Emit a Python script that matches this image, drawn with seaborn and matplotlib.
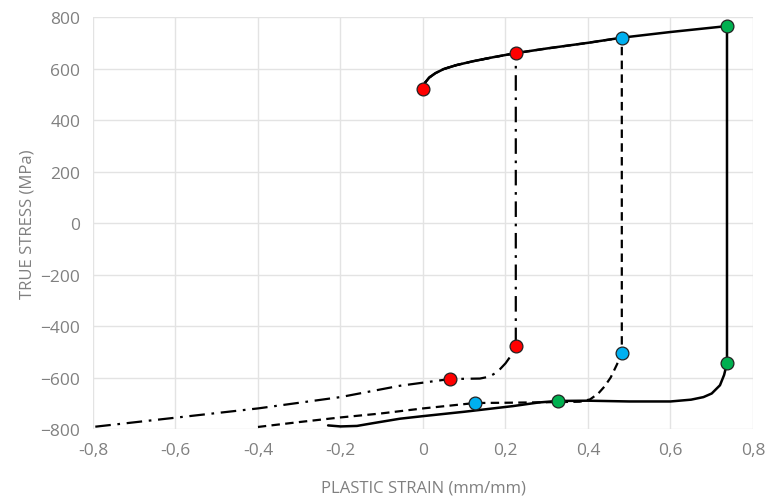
import matplotlib
matplotlib.use("Agg")
import matplotlib.pyplot as plt
import seaborn as sns
import pandas as pd

# ---- data (strain mm/mm, true stress MPa) ----
hard_x = [0, 0.005, 0.015, 0.03, 0.05, 0.08, 0.12, 0.17, 0.225, 0.30, 0.40, 0.482, 0.60, 0.737]
hard_y = [520, 545, 565, 582, 598, 613, 628, 644, 660, 678, 700, 720, 742, 765]

dd_x = [0.225, 0.225, 0.216, 0.200, 0.180, 0.160, 0.138, 0.100, 0.065, -0.056, -0.2, -0.4, -0.6, -0.8]
dd_y = [660, -478, -509, -545, -579, -597, -604, -605, -606, -632, -676, -720, -756, -792]

da_x = [0.482, 0.482, 0.470, 0.455, 0.440, 0.425, 0.405, 0.380, 0.300, 0.200, 0.126, 0.0, -0.104, -0.2, -0.3, -0.4]
da_y = [720, -505, -550, -600, -635, -662, -685, -694, -696, -698, -699, -720, -740, -755, -773, -792]

so_x = [0.737, 0.737, 0.730, 0.720, 0.700, 0.680, 0.650, 0.600, 0.500, 0.400, 0.327, 0.280, 0.218, 0.100, 0.0, -0.056, -0.12, -0.16, -0.20, -0.23]
so_y = [765, -544, -590, -630, -662, -676, -686, -693, -693, -690, -691, -697, -711, -733, -750, -760, -777, -788, -790, -786]

red_x = [0, 0.225, 0.225, 0.065]
red_y = [520, 660, -478, -606]
blue_x = [0.482, 0.482, 0.126]
blue_y = [720, -505, -699]
green_x = [0.737, 0.737, 0.327]
green_y = [765, -544, -691]

x_ticks = [-0.8, -0.6, -0.4, -0.2, 0, 0.2, 0.4, 0.6, 0.8]
x_labels = ["-0,8", "-0,6", "-0,4", "-0,2", "0", "0,2", "0,4", "0,6", "0,8"]
y_ticks = [-800, -600, -400, -200, 0, 200, 400, 600, 800]

sns.set_theme(style="white")
plt.rcParams['font.family'] = ['Open Sans', 'DejaVu Sans']

fig = plt.figure(figsize=(7.66, 5.02), dpi=100)
ax = fig.add_axes([0.1214, 0.1434, 0.8616, 0.8206])

def path(xs, ys):
    hx = [h for h in hard_x if h < xs[0] - 1e-9]
    hy = hard_y[:len(hx)]
    return pd.DataFrame({"x": hx + xs, "y": hy + ys})

solid = path(so_x, so_y)
dashed = path(da_x, da_y)
dashdot = path(dd_x, dd_y)

kw = dict(x="x", y="y", sort=False, estimator=None, errorbar=None, ax=ax, color="black")
sns.lineplot(data=dashdot, lw=1.6, linestyle=(0, (7, 3, 1.2, 3)), **kw)
sns.lineplot(data=dashed, lw=1.6, linestyle=(0, (3.8, 2.4)), **kw)
sns.lineplot(data=solid, lw=1.8, **kw)

for xs, ys, c in [(red_x, red_y, "#FF0000"), (blue_x, blue_y, "#00B0F0"), (green_x, green_y, "#00B050")]:
    sns.scatterplot(x=xs, y=ys, ax=ax, color=c, edgecolor="#222222", linewidth=0.9, s=85, zorder=5)

ax.set_xlim(-0.8, 0.8)
ax.set_ylim(-800, 800)
ax.set_xticks(x_ticks)
ax.set_xticklabels(x_labels)
ax.set_yticks(y_ticks)
ax.grid(True, color="#E3E3E3", lw=1)
ax.set_axisbelow(True)
for s in ax.spines.values():
    s.set_visible(False)
ax.tick_params(axis="both", colors="#808080", labelsize=12.5, length=0, pad=9)
ax.set_xlabel("PLASTIC STRAIN (mm/mm)", color="#808080", fontsize=12, labelpad=16)
ax.set_ylabel("TRUE STRESS (MPa)", color="#808080", fontsize=12, labelpad=4)

fig.savefig("out.png", dpi=100)
